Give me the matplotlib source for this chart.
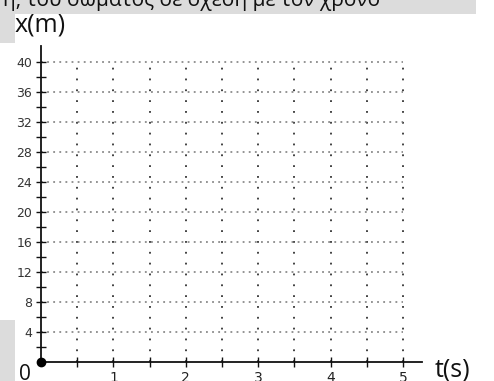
import matplotlib
matplotlib.use("Agg")
import matplotlib.pyplot as plt
from matplotlib.patches import Rectangle

# ---- data ----
t_ticks = [0.5, 1.0, 1.5, 2.0, 2.5, 3.0, 3.5, 4.0, 4.5, 5.0]
t_labels = ["", "1", "", "2", "", "3", "", "4", "", "5"]
x_ticks = [2, 4, 6, 8, 10, 12, 14, 16, 18, 20, 22, 24, 26, 28, 30, 32, 34, 36, 38, 40]
x_labels = ["", "4", "", "8", "", "12", "", "16", "", "20", "", "24", "", "28", "", "32", "", "36", "", "40"]
grid_t = [0.5, 1.0, 1.5, 2.0, 2.5, 3.0, 3.5, 4.0, 4.5, 5.0]
grid_x = [4, 8, 12, 16, 20, 24, 28, 32, 36, 40]
t_max = 5.0
x_max = 40
origin = [0.0]
y_label = "x(m)"
x_label = "t(s)"
top_text = "ή, του σώματος σε σχέση με τον χρόνο"

W, H = 494, 381
fig = plt.figure(figsize=(W / 100, H / 100), dpi=100)
fig.patch.set_facecolor("white")

gray = "#dcdcdc"
fig.patches.append(Rectangle((0, 1 - 14 / H), 476 / W, 14 / H, transform=fig.transFigure,
                             facecolor=gray, edgecolor="none", zorder=0))
fig.patches.append(Rectangle((0, 1 - 43 / H), 15 / W, 29 / H, transform=fig.transFigure,
                             facecolor=gray, edgecolor="none", zorder=0))
fig.patches.append(Rectangle((0, 0), 15 / W, 61 / H, transform=fig.transFigure,
                             facecolor=gray, edgecolor="none", zorder=0))

ax = fig.add_axes([0, 0, 1, 1])
ax.patch.set_alpha(0)
ax.set_xlim(-41 / 72.4, (W - 41) / 72.4)
ax.set_ylim(-(H - 362) / 7.5, 362 / 7.5)

for s in ("top", "right"):
    ax.spines[s].set_visible(False)
ax.spines["left"].set_position(("data", 0))
ax.spines["bottom"].set_position(("data", 0))
ax.spines["left"].set_bounds(0, (362 - 46) / 7.5)
ax.spines["bottom"].set_bounds(0, (422 - 41) / 72.4)
for s in ("left", "bottom"):
    ax.spines[s].set_linewidth(1.3)
    ax.spines[s].set_color("#111111")

ax.set_xticks(t_ticks, t_labels)
ax.set_yticks(x_ticks, x_labels)
ax.tick_params(axis="x", direction="inout", length=7, width=1.0, pad=3,
               labelsize=10, colors="#111111", labelcolor="#222222")
ax.tick_params(axis="y", direction="inout", length=7, width=1.0, pad=3,
               labelsize=9, colors="#111111", labelcolor="#333333")

ax.vlines(grid_t, 0, x_max, colors="#333333", linestyles=(0, (1, 5)), linewidth=1.3, zorder=1)
ax.hlines(grid_x, 0, t_max, colors="#777777", linestyles=(0, (1.2, 2.8)), linewidth=1.1, zorder=1)

ax.plot(origin, origin, "o", color="black", markersize=6, zorder=5, clip_on=False)

fig.text(15 / W, 1 - 12 / H, y_label, fontsize=18, family="Open Sans", va="top", ha="left", color="#111111")
fig.text(435 / W, 1 - 370 / H, x_label, fontsize=18, family="Open Sans", va="center", ha="left", color="#111111")
fig.text(19 / W, 1 - 364 / H, "0", fontsize=15, family="Open Sans", va="top", ha="left", color="#111111")
fig.text(3 / W, 1 - 6 / H, top_text, fontsize=15, family="Open Sans", va="baseline", ha="left", color="#111111")

fig.savefig("out.png", dpi=100)
